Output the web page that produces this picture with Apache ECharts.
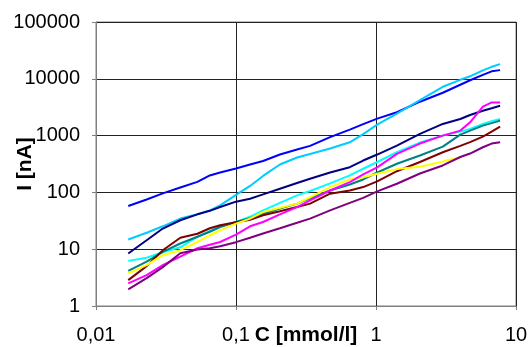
<!DOCTYPE html>
<html>
<head>
<meta charset="utf-8">
<script src="https://cdn.jsdelivr.net/npm/echarts@6/dist/echarts.min.js"></script>
<style>
  html, body { margin: 0; padding: 0; background: #fff; }
  #chart { width: 530px; height: 347px; }
</style>
</head>
<body>
<div id="chart"></div>
<script>
// concentration C [mmol/l], shared by all curves
const conc = [0.017, 0.023, 0.03, 0.04, 0.053, 0.065, 0.077, 0.1, 0.126, 0.156, 0.206, 0.273, 0.338,
  0.47, 0.65, 0.81, 1.02, 1.41, 2.06, 3.0, 4.0, 4.7, 5.8, 6.7, 7.7];

// current I [nA] per curve
const iBlue = [57.5, 75, 96, 122, 153, 199, 224, 264, 310, 357, 464, 568, 660,
  941, 1275, 1590, 1990, 2580, 3950, 5680, 7850, 9420, 11750, 13540, 14220];
const iSkyBlue = [14.8, 19.5, 25.3, 34.6, 41.1, 48.3, 59.2, 90.4, 130, 195, 310, 411, 474,
  591, 763, 1062, 1560, 2430, 4200, 7240, 9600, 11060, 14100, 16250, 18120];
const iNavy = [8.4, 14.4, 23.1, 32.3, 41.1, 47.4, 55.2, 68.7, 77.5, 92.2, 116, 146, 174,
  224, 278, 364, 464, 668, 1071, 1604, 1963, 2307, 2746, 3036, 3360];
const iMagenta = [2.5, 3.5, 5.24, 7.39, 10.4, 12.0, 13.4, 18.0, 25.3, 30.1, 41.1, 55.2, 72.4,
  108, 152, 207, 275, 477, 724, 1000, 1224, 1711, 3227, 3838, 3838];
const iCyan = [6.23, 7.1, 8.86, 10.8, 16.6, 21.1, 25.3, 30.1, 37.2, 48.3, 65.4, 88.6, 106,
  144, 199, 261, 343, 509, 754, 1000, 1175, 1312, 1604, 1797, 1963];
const iTeal = [4.16, 6.04, 8.97, 12.6, 16.6, 20.3, 24.6, 30.1, 35.0, 42.0, 51.8, 63.4, 78.5,
  108, 138, 169, 224, 319, 446, 641, 1042, 1224, 1497, 1657, 1834];
const iMaroon = [2.86, 5.03, 9.6, 15.9, 18.7, 23.4, 26.4, 29.8, 32.9, 39.5, 46.4, 55.2, 63.4,
  94.9, 108, 124, 156, 236, 343, 509, 660, 769, 960, 1175, 1439];
const iYellow = [3.75, 5.24, 7.85, 9.6, 13.4, 17.6, 21.5, 28.2, 34.6, 45.1, 53.5, 63.4, 81.7,
  124, 170, 185, 213, 257, 284, 350, 415, null, null, null, null];
const iPurple = [1.96, 3.1, 4.83, 8.51, 9.88, 10.4, 11.3, 13.3, 15.9, 18.9, 23.4, 29.2, 34.6,
  48.3, 65.4, 80.1, 104, 142, 215, 298, 420, 483, 624, 724, 763];

const xTickLabels = ['0,01', '0,1', '1', '10'];
const yTickLabels = ['1', '10', '100', '1000', '10000', '100000'];

const curves = [
  { values: iBlue, color: '#0000FF' },
  { values: iSkyBlue, color: '#00CCFF' },
  { values: iNavy, color: '#000080' },
  { values: iCyan, color: '#00FFFF' },
  { values: iTeal, color: '#008080' },
  { values: iMaroon, color: '#800000' },
  { values: iYellow, color: '#FFFF00' },
  { values: iMagenta, color: '#FF00FF' },
  { values: iPurple, color: '#800080' },
];

const fontFamily = '"Liberation Sans", Arial, sans-serif';

const chart = echarts.init(document.getElementById('chart'));

const axisCommon = {
  type: 'log',
  logBase: 10,
  axisLine: { lineStyle: { color: '#808080', width: 1 } },
  axisTick: { show: true, inside: false, length: 4, lineStyle: { color: '#808080' } },
  minorTick: { show: false },
  splitLine: { show: true, lineStyle: { color: '#222', width: 1 } },
  nameLocation: 'middle',
  nameMoveOverlap: false, // the reference lets the title sit between tick labels
  nameTextStyle: { fontFamily, fontSize: 21, fontWeight: 'bold', color: '#000' },
};

chart.setOption({
  animation: false, // static picture
  backgroundColor: '#fff',
  grid: {
    left: 96,
    right: 14,
    top: 22,
    bottom: 41,
    show: true,
    borderColor: '#808080',
    borderWidth: 1,
    containLabel: false,
    outerBoundsMode: 'none', // keep the plot box where the reference has it
  },
  xAxis: {
    ...axisCommon,
    min: 0.01,
    max: 10,
    name: 'C [mmol/l]',
    nameGap: 19,
    axisLabel: {
      margin: 19,
      fontFamily,
      fontSize: 20,
      color: '#000',
      formatter: (v) => xTickLabels[Math.round(Math.log10(v)) + 2],
    },
  },
  yAxis: {
    ...axisCommon,
    min: 1,
    max: 100000,
    name: 'I [nA]',
    nameGap: 60,
    axisLabel: {
      margin: 16,
      fontFamily,
      fontSize: 20,
      color: '#000',
      formatter: (v) => yTickLabels[Math.round(Math.log10(v))],
    },
  },
  series: curves.map((c) => ({
    type: 'line',
    data: conc.map((x, i) => [x, c.values[i]]),
    showSymbol: false,
    connectNulls: false,
    lineStyle: { color: c.color, width: 2 },
    itemStyle: { color: c.color },
  })),
});
</script>
</body>
</html>
